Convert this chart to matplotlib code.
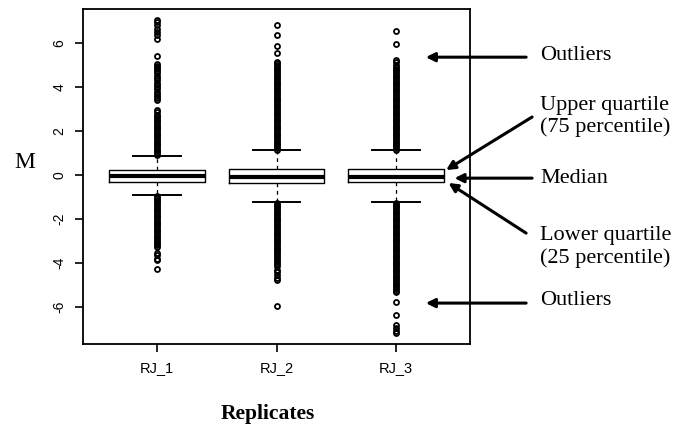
#!/usr/bin/env python3
import matplotlib
matplotlib.use('Agg')
import matplotlib.pyplot as plt

plt.rcParams['axes.unicode_minus'] = False

replicates = ['RJ_1', 'RJ_2', 'RJ_3']
medians = [-0.03, -0.09, -0.08]
lower_q = [-0.32, -0.36, -0.33]
upper_q = [0.23, 0.27, 0.26]
whisker_low = [-0.92, -1.22, -1.21]
whisker_high = [0.88, 1.12, 1.12]

# outliers (dense runs listed point by point)
outliers_rj1 = [
    0.92, 1.0, 1.08, 1.16, 1.24, 1.32, 1.4, 1.48, 1.56, 1.64, 1.72, 1.8,
    1.88, 1.96, 2.04, 2.12, 2.2, 2.28, 2.36, 2.44, 2.52, 2.6, 2.68, 2.74,
    2.85, 2.95, 3.4, 3.5, 3.6, 3.68, 3.78, 3.9, 4.0, 4.1, 4.2, 4.3, 4.4,
    4.5, 4.62, 4.72, 4.82, 4.9, 4.98, 5.05, 5.4, 6.2, 6.35, 6.5, 6.65,
    6.8, 6.95, 7.05,
    -0.96, -1.04, -1.12, -1.2, -1.28, -1.36, -1.44, -1.52, -1.6, -1.68,
    -1.76, -1.84, -1.92, -2.0, -2.08, -2.16, -2.24, -2.32, -2.4, -2.48,
    -2.56, -2.64, -2.72, -2.8, -2.88, -2.96, -3.04, -3.12, -3.2, -3.28,
    -3.55, -3.65, -3.8, -3.88, -4.27,
]
outliers_rj2 = [
    1.16, 1.24, 1.32, 1.4, 1.48, 1.56, 1.64, 1.72, 1.8, 1.88, 1.96, 2.04,
    2.12, 2.2, 2.28, 2.36, 2.44, 2.52, 2.6, 2.68, 2.76, 2.84, 2.92, 3.0,
    3.08, 3.16, 3.24, 3.32, 3.4, 3.48, 3.56, 3.64, 3.72, 3.8, 3.88, 3.96,
    4.04, 4.12, 4.2, 4.28, 4.36, 4.44, 4.52, 4.6, 4.68, 4.76, 4.84, 4.92,
    5.0, 5.08, 5.15, 5.53, 5.88, 6.36, 6.8,
    -1.26, -1.34, -1.42, -1.5, -1.58, -1.66, -1.74, -1.82, -1.9, -1.98,
    -2.06, -2.14, -2.22, -2.3, -2.38, -2.46, -2.54, -2.62, -2.7, -2.78,
    -2.86, -2.94, -3.02, -3.1, -3.18, -3.26, -3.34, -3.42, -3.5, -3.58,
    -3.66, -3.76, -3.86, -3.95, -4.05, -4.15, -4.3, -4.42, -4.55, -4.66,
    -4.77, -5.95,
]
outliers_rj3 = [
    1.16, 1.24, 1.32, 1.4, 1.48, 1.56, 1.64, 1.72, 1.8, 1.88, 1.96, 2.04,
    2.12, 2.2, 2.28, 2.36, 2.44, 2.52, 2.6, 2.68, 2.76, 2.84, 2.92, 3.0,
    3.08, 3.16, 3.24, 3.32, 3.4, 3.48, 3.56, 3.64, 3.72, 3.8, 3.88, 3.96,
    4.04, 4.12, 4.2, 4.28, 4.36, 4.44, 4.52, 4.6, 4.68, 4.76, 4.84, 4.92,
    5.02, 5.12, 5.22, 5.94, 6.56,
    -1.26, -1.34, -1.42, -1.5, -1.58, -1.66, -1.74, -1.82, -1.9, -1.98,
    -2.06, -2.14, -2.22, -2.3, -2.38, -2.46, -2.54, -2.62, -2.7, -2.78,
    -2.86, -2.94, -3.02, -3.1, -3.18, -3.26, -3.34, -3.42, -3.5, -3.58,
    -3.66, -3.74, -3.82, -3.9, -3.98, -4.06, -4.14, -4.22, -4.3, -4.38,
    -4.46, -4.54, -4.62, -4.7, -4.78, -4.86, -4.94, -5.02, -5.1, -5.18,
    -5.26, -5.3, -5.76, -6.36, -6.82, -6.95, -7.08, -7.2,
]
outliers = [outliers_rj1, outliers_rj2, outliers_rj3]

fig = plt.figure(figsize=(6.75, 4.26), dpi=100)
ax = fig.add_axes([83 / 675, 1 - 344 / 426, 387 / 675, 335 / 426])

stats = []
for i in range(len(replicates)):
    stats.append({'label': replicates[i], 'med': medians[i], 'q1': lower_q[i],
                  'q3': upper_q[i], 'whislo': whisker_low[i],
                  'whishi': whisker_high[i], 'fliers': outliers[i]})

ax.bxp(stats, positions=[1, 2, 3], widths=0.8, capwidths=0.4,
       boxprops=dict(color='black', lw=1),
       whiskerprops=dict(color='black', lw=0.9, ls=(0, (3, 3))),
       capprops=dict(color='black', lw=1.4),
       medianprops=dict(color='black', lw=3, solid_capstyle='butt'),
       flierprops=dict(marker='o', markerfacecolor='none', markeredgecolor='black',
                       markersize=3.6, markeredgewidth=1.3))

ax.set_xlim(0.38, 3.62)
ax.set_ylim(-7.68, 7.55)
ax.set_yticks([-6, -4, -2, 0, 2, 4, 6])
ax.set_yticklabels(['-6', '-4', '-2', '0', '2', '4', '6'], rotation=90, va='center',
                   family='Liberation Sans', fontsize=10)
ax.set_xticks([1, 2, 3])
ax.set_xticklabels(replicates, family='Liberation Sans', fontsize=10.5)
ax.tick_params(direction='out', length=6, width=1.2, pad=6)
for s in ax.spines.values():
    s.set_linewidth(1.3)

fig.text(25 / 675, 1 - 162 / 426, 'M', family='Liberation Serif', fontsize=17,
         ha='center', va='center')
fig.text(268 / 675, 1 - 414 / 426, 'Replicates', family='Liberation Serif',
         fontsize=15.5, fontweight='bold', ha='center', va='center')

arrows = [((3.25, 5.36), (4.09, 5.36)),
          ((3.42, 0.23), (4.14, 2.64)),
          ((3.49, -0.14), (4.14, -0.14)),
          ((3.44, -0.36), (4.09, -2.64)),
          ((3.25, -5.82), (4.09, -5.82))]
for tip, tail in arrows:
    ax.annotate('', xy=tip, xytext=tail, annotation_clip=False,
                arrowprops=dict(arrowstyle='-|>', lw=2.2, color='black',
                                mutation_scale=13, shrinkA=0, shrinkB=0))

labels = [('Outliers', 5.45), ('Upper quartile', 3.18), ('(75 percentile)', 2.18),
          ('Median', -0.14), ('Lower quartile', -2.77), ('(25 percentile)', -3.77),
          ('Outliers', -5.68)]
for txt, yv in labels:
    ax.text(4.21, yv, txt, family='Liberation Serif', fontsize=16, ha='left',
            va='center', clip_on=False)

fig.savefig('out.png', dpi=100)
